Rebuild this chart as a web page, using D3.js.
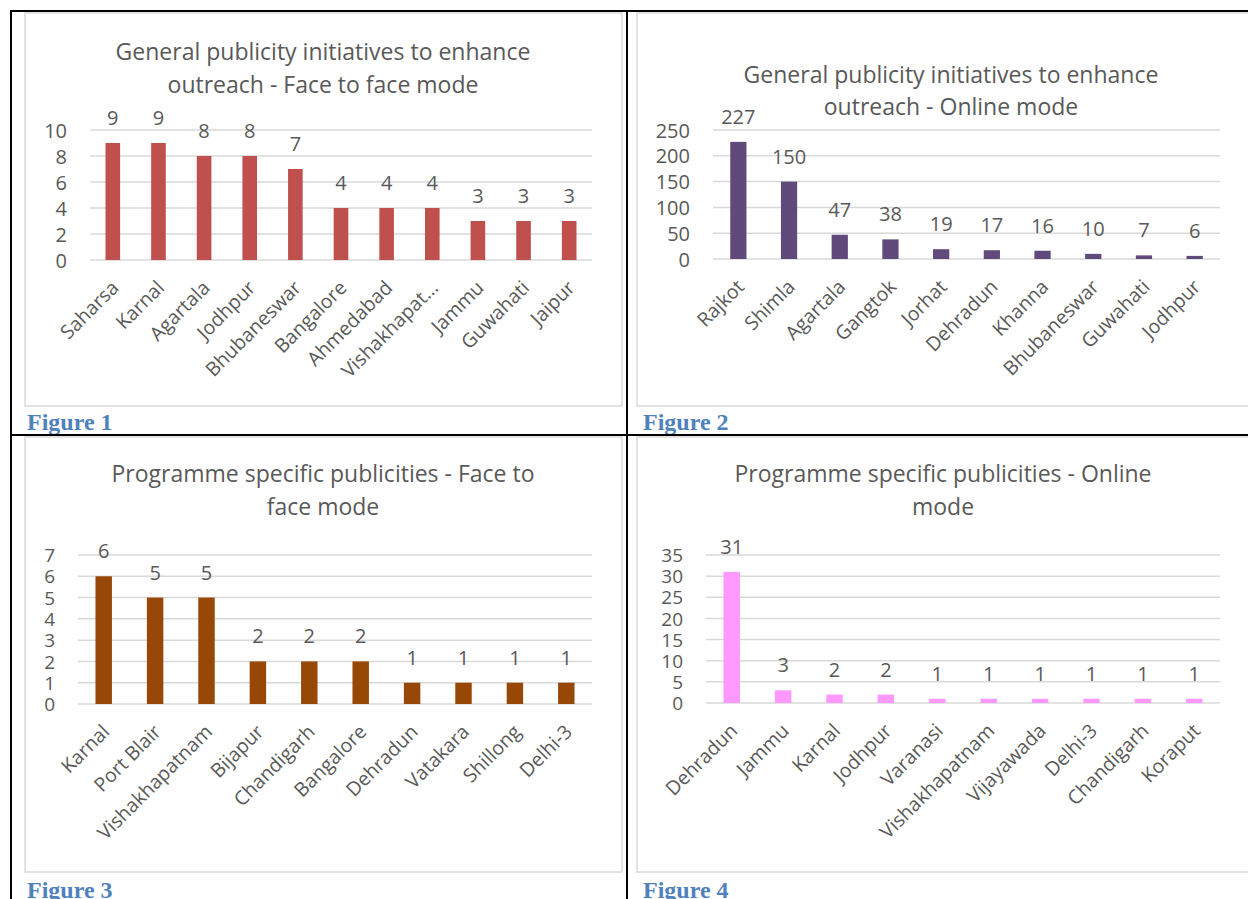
<!DOCTYPE html>
<html>
<head>
<meta charset="utf-8">
<script src="https://cdn.jsdelivr.net/npm/d3@7"></script>
<style>
  html, body { margin: 0; padding: 0; background: #ffffff; }
  svg { display: block; }
  text.sans { font-family: "Open Sans", "Noto Sans", sans-serif; fill: #595959; }
  text.fig { font-family: "Liberation Serif", "Times New Roman", serif; font-weight: bold; fill: #4f81bd; }
</style>
</head>
<body>
<svg id="chart" width="1248" height="899"></svg>
<script>
// ---------- DATA ----------
const cats1 = ["Saharsa", "Karnal", "Agartala", "Jodhpur", "Bhubaneswar", "Bangalore", "Ahmedabad", "Vishakhapat...", "Jammu", "Guwahati", "Jaipur"];
const vals1 = [9, 9, 8, 8, 7, 4, 4, 4, 3, 3, 3];
const ticks1 = [0, 2, 4, 6, 8, 10];
const title1 = ["General publicity initiatives to enhance", "outreach - Face to face mode"];

const cats2 = ["Rajkot", "Shimla", "Agartala", "Gangtok", "Jorhat", "Dehradun", "Khanna", "Bhubaneswar", "Guwahati", "Jodhpur"];
const vals2 = [227, 150, 47, 38, 19, 17, 16, 10, 7, 6];
const ticks2 = [0, 50, 100, 150, 200, 250];
const title2 = ["General publicity initiatives to enhance", "outreach - Online mode"];

const cats3 = ["Karnal", "Port Blair", "Vishakhapatnam", "Bijapur", "Chandigarh", "Bangalore", "Dehradun", "Vatakara", "Shillong", "Delhi-3"];
const vals3 = [6, 5, 5, 2, 2, 2, 1, 1, 1, 1];
const ticks3 = [0, 1, 2, 3, 4, 5, 6, 7];
const title3 = ["Programme specific publicities - Face to", "face mode"];

const cats4 = ["Dehradun", "Jammu", "Karnal", "Jodhpur", "Varanasi", "Vishakhapatnam", "Vijayawada", "Delhi-3", "Chandigarh", "Koraput"];
const vals4 = [31, 3, 2, 2, 1, 1, 1, 1, 1, 1];
const ticks4 = [0, 5, 10, 15, 20, 25, 30, 35];
const title4 = ["Programme specific publicities - Online", "mode"];

const figureLabels = ["Figure 1", "Figure 2", "Figure 3", "Figure 4"];

// ---------- LAYOUT ----------
const svg = d3.select("#chart");
svg.append("rect").attr("width", 1248).attr("height", 899).attr("fill", "#ffffff");

const panels = [
  { cats: cats1, vals: vals1, ticks: ticks1, title: title1, color: "#c0504d",
    frame: [25, 13, 622, 406], x: [90, 592], y: [260, 130], titleX: 323, titleY: [60, 93],
    fig: [27, 430], tickSize: 20 },
  { cats: cats2, vals: vals2, ticks: ticks2, title: title2, color: "#604a7b",
    frame: [637, 13, 1252, 406], x: [713, 1220], y: [259, 130], titleX: 951, titleY: [83, 115],
    fig: [643, 430], tickSize: 20 },
  { cats: cats3, vals: vals3, ticks: ticks3, title: title3, color: "#974806",
    frame: [25, 437, 622, 872], x: [78, 592], y: [704, 555], titleX: 323, titleY: [482, 515],
    fig: [27, 898], tickSize: 19 },
  { cats: cats4, vals: vals4, ticks: ticks4, title: title4, color: "#ff99ff",
    frame: [637, 437, 1252, 872], x: [706, 1220], y: [703, 555], titleX: 943, titleY: [482, 515],
    fig: [643, 898], tickSize: 19 }
];

panels.forEach((p, i) => {
  const g = svg.append("g");
  // chart frame
  g.append("rect")
    .attr("x", p.frame[0]).attr("y", p.frame[1])
    .attr("width", p.frame[2] - p.frame[0]).attr("height", p.frame[3] - p.frame[1])
    .attr("fill", "#ffffff").attr("stroke", "#d9d9d9").attr("stroke-width", 1.5);

  const x = d3.scaleBand().domain(p.cats).range(p.x).paddingInner(0.68).paddingOuter(0.34);
  const y = d3.scaleLinear().domain([0, d3.max(p.ticks)]).range(p.y);

  // gridlines
  g.selectAll("line.grid").data(p.ticks).join("line")
    .attr("class", "grid")
    .attr("x1", p.x[0]).attr("x2", p.x[1])
    .attr("y1", d => y(d)).attr("y2", d => y(d))
    .attr("stroke", "#d9d9d9").attr("stroke-width", 1.5);

  // y tick labels via axis
  const yAxis = d3.axisLeft(y).tickValues(p.ticks).tickFormat(d3.format("d")).tickSize(0).tickPadding(0);
  const ya = g.append("g").attr("transform", `translate(${p.x[0] - 23},0)`).call(yAxis);
  ya.select(".domain").remove();
  ya.attr("font-family", null).attr("font-size", null);
  ya.selectAll("text").attr("class", "sans").attr("font-size", p.tickSize).attr("dy", "0.35em");

  // bars
  g.selectAll("rect.bar").data(p.vals).join("rect")
    .attr("class", "bar")
    .attr("x", (d, j) => x(p.cats[j]))
    .attr("width", x.bandwidth())
    .attr("y", d => y(d))
    .attr("height", d => y(0) - y(d))
    .attr("fill", p.color);

  // value labels
  g.selectAll("text.val").data(p.vals).join("text")
    .attr("class", "val sans")
    .attr("x", (d, j) => x(p.cats[j]) + x.bandwidth() / 2)
    .attr("y", d => y(d) - 18)
    .attr("text-anchor", "middle")
    .attr("font-size", 20)
    .text(d => d);

  // category labels rotated
  g.selectAll("text.cat").data(p.cats).join("text")
    .attr("class", "cat sans")
    .attr("transform", d => `translate(${x(d) + x.bandwidth() / 2 + 7},${y(0) + 29}) rotate(-45)`)
    .attr("text-anchor", "end")
    .attr("font-size", 19.5)
    .text(d => d);

  // title
  g.selectAll("text.title").data(p.title).join("text")
    .attr("class", "title sans")
    .attr("x", p.titleX)
    .attr("y", (d, j) => p.titleY[j])
    .attr("text-anchor", "middle")
    .attr("font-size", 23)
    .text(d => d);

  // figure caption
  svg.append("text")
    .attr("class", "fig")
    .attr("x", p.fig[0]).attr("y", p.fig[1])
    .attr("font-size", 24)
    .text(figureLabels[i]);
});

// table borders
const borders = [
  [10, 11, 1248, 11],
  [11, 10, 11, 899],
  [627, 10, 627, 899],
  [10, 435, 1248, 435]
];
svg.selectAll("line.border").data(borders).join("line")
  .attr("class", "border")
  .attr("x1", d => d[0]).attr("y1", d => d[1])
  .attr("x2", d => d[2]).attr("y2", d => d[3])
  .attr("stroke", "#000000").attr("stroke-width", 2);
</script>
</body>
</html>
